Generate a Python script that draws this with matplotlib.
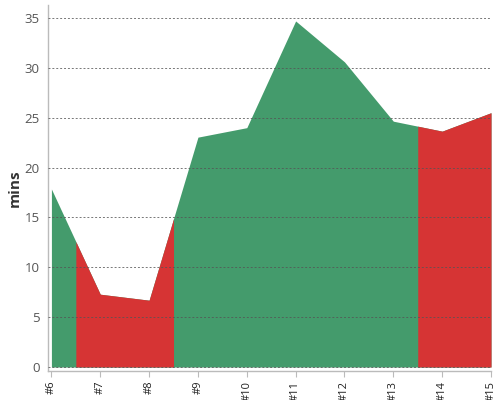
import numpy as np
import matplotlib.pyplot as plt

labels = ["#6", "#7", "#8", "#9", "#10", "#11", "#12", "#13", "#14", "#15"]
mins = [17.85, 7.3, 6.7, 23.05, 24.0, 34.7, 30.6, 24.65, 23.65, 25.5]
on_target = [True, False, False, True, True, True, True, True, False, False]

green = "#449b6c"
red = "#d63434"

plt.rcParams['font.family'] = ['Open Sans', 'DejaVu Sans']

fig = plt.figure(figsize=(5, 4), dpi=100)
ax = fig.add_axes([0.096, 0.0725, 0.886, 0.915])

x = np.arange(len(labels))
y = np.array(mins)

# whole area in green, then the off-target stretches painted red on top
ax.fill_between(x, 0, y, color=green, linewidth=0, zorder=1)

runs = []
start = 0
for i in range(1, len(x) + 1):
    if i == len(x) or on_target[i] != on_target[start]:
        runs.append((start, i - 1))
        start = i

for a, b in runs:
    if on_target[a]:
        continue
    lo = max(x[a] - 0.5, x[0])
    hi = min(x[b] + 0.5, x[-1])
    inner = x[a:b + 1][(x[a:b + 1] > lo) & (x[a:b + 1] < hi)]
    xs = np.concatenate(([lo], inner, [hi]))
    ys = np.interp(xs, x, y)
    ax.fill_between(xs, 0, ys, color=red, linewidth=0, zorder=2)

ax.set_xlim(-0.07, 9)
ax.set_ylim(-0.4, 36.3)
ax.set_yticks(range(0, 36, 5))
ax.set_xticks(x)
ax.set_xticklabels(labels, rotation=90, fontsize=8, color="#222222")
ax.tick_params(axis='y', length=0, labelsize=9.5, labelcolor="#555555", pad=6)
ax.tick_params(axis='x', length=4, color="#bbbbbb", pad=3)

ax.grid(axis='y', linestyle=(0, (2, 2)), linewidth=0.7, color="#555555",
        alpha=0.8, zorder=3)
ax.set_axisbelow(False)

for s in ['top', 'right']:
    ax.spines[s].set_visible(False)
for s in ['left', 'bottom']:
    ax.spines[s].set_color("#bbbbbb")
    ax.spines[s].set_linewidth(1)

ax.set_ylabel("mins", fontsize=11, fontweight='bold', color="#333333", labelpad=2)

fig.savefig("out.png", dpi=100)
